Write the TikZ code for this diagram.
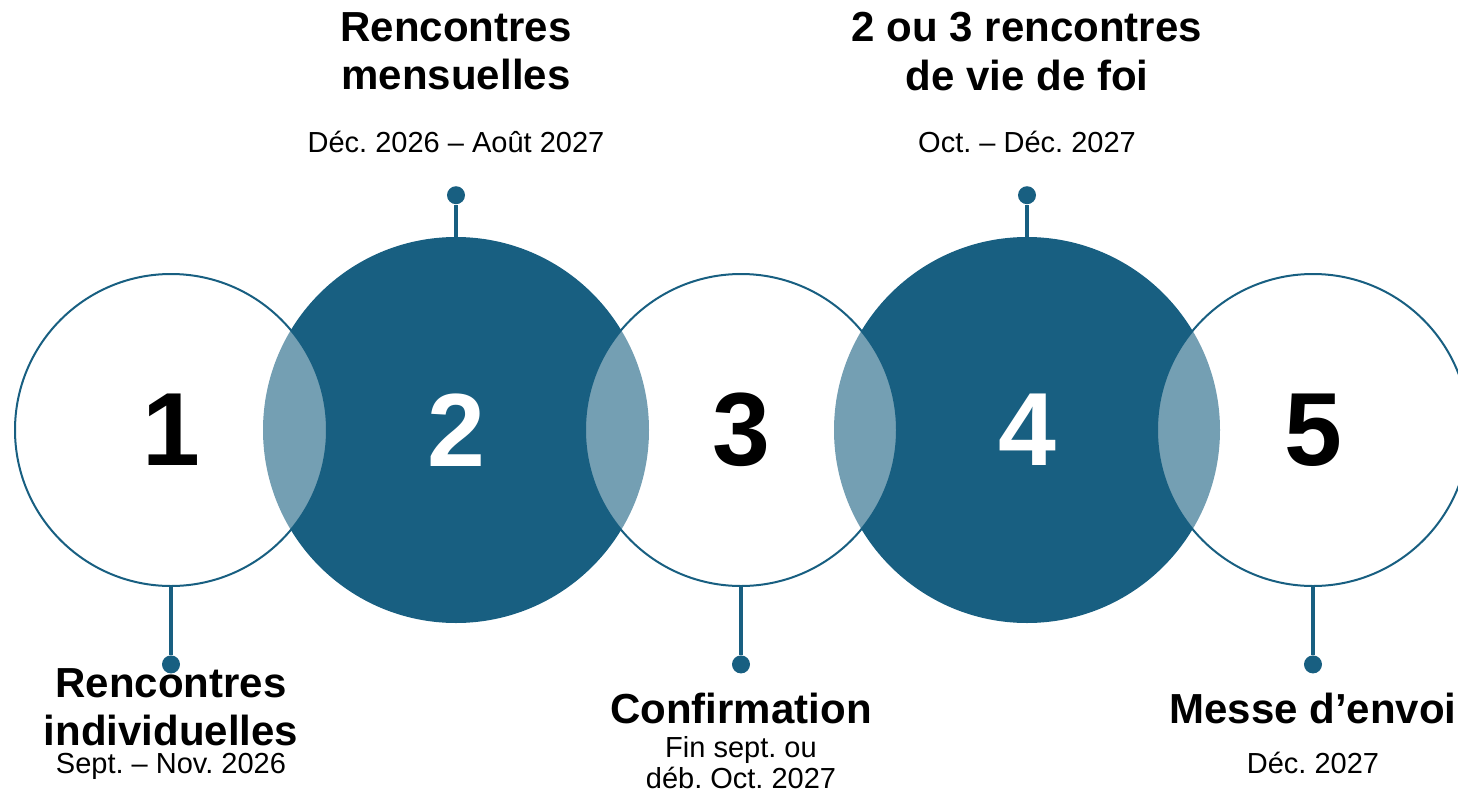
\documentclass[tikz,border=0pt]{standalone}
\usepackage{fontspec}
\setmainfont{Liberation Sans}
\usepackage{xcolor}
\usepackage{tikz}
\usetikzlibrary{positioning}
\definecolor{petrol}{HTML}{185F81}
\tikzset{dot/.style={circle, fill=petrol, inner sep=0pt, minimum size=9pt}}
\frenchspacing

\begin{document}
\begin{tikzpicture}
[
x=0.5pt, y=-0.5pt,
big/.style={circle, inner sep=0pt, minimum size=193pt, fill=petrol, text=white, font=\fontsize{52}{60}\selectfont\bfseries},
small/.style={circle, inner sep=0pt, minimum size=156pt, draw=petrol, line width=1pt, fill=white, fill opacity=0.4, text opacity=1, font=\fontsize{52}{60}\selectfont\bfseries},
stem/.style={draw=petrol, line width=2pt},
head/.style={align=center, inner sep=0pt, anchor=north, font=\fontsize{21}{24.25}\selectfont\bfseries},
when/.style={align=center, inner sep=0pt, font=\fontsize{14.5}{15.5}\selectfont}
]
\clip (0,0) rectangle (1458,793);

% dark circles first, light ones on top
\node[big] (n2) at (456,430) {2};
\node[big] (n4) at (1027,430) {4};
\node[small] (n1) at (171,430) {1};
\node[small] (n3) at (741,430) {3};
\node[small] (n5) at (1313,430) {5};

\node[dot] (d1) [below=34pt of n1] {};
\node[dot] (d2) [above=16pt of n2] {};
\node[dot] (d3) [below=34pt of n3] {};
\node[dot] (d4) [above=16pt of n4] {};
\node[dot] (d5) [below=34pt of n5] {};

\draw[stem] (n1) -- (d1);
\draw[stem] (n2) -- (d2);
\draw[stem] (n3) -- (d3);
\draw[stem] (n4) -- (d4);
\draw[stem] (n5) -- (d5);

% labels
\node[head] (h2) at (456,12) {Rencontres\\mensuelles};
\node[when, anchor=base] (t2) at (456,152) {Déc. 2026 – Août 2027};
\node[head] (h4) at (1027,12) {2 ou 3 rencontres\\de vie de foi};
\node[when, anchor=base] (t4) at (1027,152) {Oct. – Déc. 2027};

\node[head] (h1) at (171,668) {Rencontres\\individuelles};
\node[when, anchor=base] (t1) at (171,773) {Sept. – Nov. 2026};
\node[head] (h3) at (741,693) {Confirmation};
\node[when, anchor=north] (t3) at (741,736) {Fin sept. ou\\déb. Oct. 2027};
\node[head] (h5) at (1313,693) {Messe d’envoi};
\node[when, anchor=base] (t5) at (1313,773) {Déc. 2027};
\end{tikzpicture}
\end{document}
